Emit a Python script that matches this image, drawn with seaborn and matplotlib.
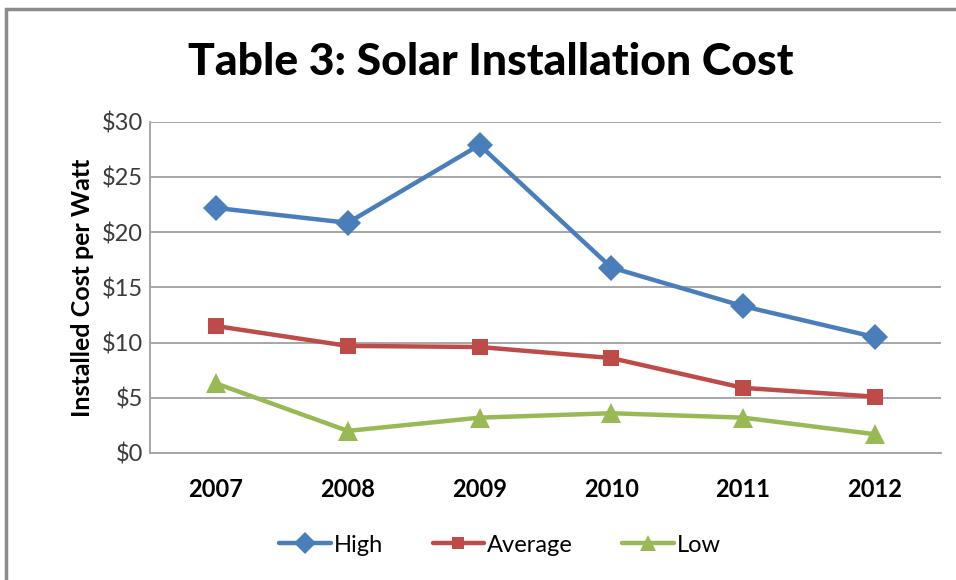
import pandas as pd
import matplotlib.pyplot as plt
import seaborn as sns
from matplotlib.patches import Rectangle

years = [2007, 2008, 2009, 2010, 2011, 2012]
high = [22.2, 20.85, 27.9, 16.8, 13.3, 10.5]
average = [11.5, 9.7, 9.6, 8.6, 5.9, 5.1]
low = [6.3, 2.0, 3.2, 3.6, 3.2, 1.7]
yticks = [0, 5, 10, 15, 20, 25, 30]

# datos en formato largo para seaborn
df = pd.DataFrame({
    "Year": years * 3,
    "Cost": high + average + low,
    "Series": ["High"] * 6 + ["Average"] * 6 + ["Low"] * 6,
})

sns.set_style("white")
plt.rcParams["font.family"] = ["Lato", "DejaVu Sans"]
plt.rcParams["text.color"] = "black"

colores = {"High": "#4A7EBB", "Average": "#BE4B48", "Low": "#98B954"}
marcas = {"High": "D", "Average": "s", "Low": "^"}
tamanos = {"High": 13, "Average": 11, "Low": 14}

fig = plt.figure(figsize=(9.56, 5.8), dpi=100)
ax = fig.add_axes([0.157, 0.219, 0.827, 0.571])

sns.lineplot(data=df, x="Year", y="Cost", hue="Series", style="Series",
             palette=colores, markers=marcas, dashes=False, linewidth=3.2,
             markeredgewidth=0, ax=ax, legend=False)

# ajustar tamaño de marcadores por serie
for line in ax.get_lines():
    lab = None
    for k, v in marcas.items():
        if line.get_marker() == v:
            lab = k
    if lab:
        line.set_markersize(tamanos[lab])

ax.set_xlim(2006.5, 2012.5)
ax.set_ylim(0, 30)
ax.set_yticks(yticks)
ax.set_yticklabels([f"${v}" for v in yticks], fontsize=17, color="#3A3A3A")
ax.set_xticks(years)
ax.set_xticklabels([str(y) for y in years], fontsize=17, fontweight="bold", color="black")
ax.tick_params(axis="y", length=0, pad=5)
ax.tick_params(axis="x", length=0, pad=18)
ax.grid(axis="y", color="#A6A6A6", linewidth=1.4)
ax.set_axisbelow(True)
for s in ["top", "right"]:
    ax.spines[s].set_visible(False)
for s in ["left", "bottom"]:
    ax.spines[s].set_color("#A6A6A6")
    ax.spines[s].set_linewidth(1.4)

ax.set_xlabel("")
ax.set_ylabel("Installed Cost per Watt", fontsize=18, fontweight="bold", labelpad=6, color="black")

fig.text(0.513, 0.893, "Table 3: Solar Installation Cost", ha="center", va="center",
         fontsize=32, fontweight="black", color="black")

# leyenda
handles = [plt.Line2D([], [], color=colores[k], marker=marcas[k], markersize=tamanos[k] - 2,
                      linewidth=3.2, markeredgewidth=0) for k in ["High", "Average", "Low"]]
fig.legend(handles, ["High", "Average", "Low"], loc="center", bbox_to_anchor=(0.523, 0.06),
           ncol=3, frameon=False, fontsize=17, handlelength=2.2, columnspacing=2.1,
           handletextpad=0.1)

# marco del gráfico
fig.patches.append(Rectangle((0.006, -0.05), 1.1, 1.034, transform=fig.transFigure,
                             fill=False, edgecolor="#8C8C8C", linewidth=2.5))

fig.savefig("out.png", dpi=100)
